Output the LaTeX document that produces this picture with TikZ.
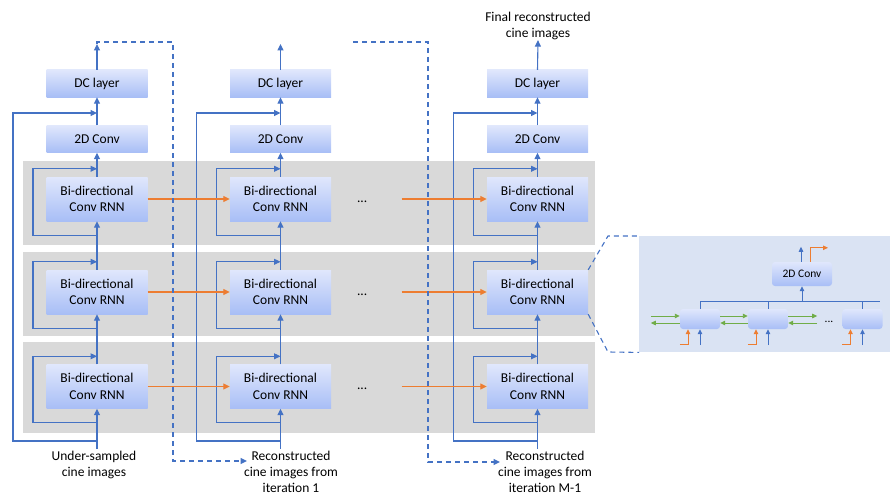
\documentclass[tikz,border=0pt]{standalone}
\usepackage{fontspec}
\setmainfont{Carlito}
\usepackage{tikz}
\usetikzlibrary{arrows.meta,positioning,calc}
\definecolor{flowblue}{RGB}{68,114,196}
\definecolor{hstateorange}{RGB}{237,125,49}
\definecolor{cellgreen}{RGB}{112,173,71}
\definecolor{bandgray}{RGB}{217,217,217}
\definecolor{insetblue}{RGB}{218,227,243}
\definecolor{blktop}{RGB}{224,231,252}
\definecolor{blkbot}{RGB}{168,190,246}
\tikzset{>={Triangle[length=6.5pt,width=6pt]},
  blk/.style={minimum width=101pt, minimum height=27pt, inner sep=0pt, top color=blktop, bottom color=blkbot, align=center, font=\fontsize{13.5}{16.5}\selectfont},
  rnnblk/.style={blk, minimum height=44pt},
  cellblk/.style={blk, minimum width=40pt, minimum height=20pt, rounded corners=3pt, font=\fontsize{11.5}{13}\selectfont},
  lbl/.style={inner sep=0pt, align=center, font=\fontsize{13.5}{16}\selectfont},
  flow/.style={draw=flowblue, line width=1.1pt},
  hstate/.style={draw=hstateorange, line width=1.1pt},
  feedback/.style={draw=flowblue, line width=1.3pt, dash pattern=on 5pt off 4pt},
  thinflow/.style={flow, line width=0.9pt, >={Triangle[length=5pt,width=4.5pt]}},
  thinhstate/.style={hstate, line width=0.9pt, >={Triangle[length=5pt,width=4.5pt]}},
  cellflow/.style={draw=cellgreen, line width=0.9pt, >={Triangle[length=5pt,width=4.5pt]}}}

\begin{document}
\begin{tikzpicture}[x=1pt, y=-1pt]
    \useasboundingbox (0,0) rectangle (891,495);
    \foreach \ytop/\ybot in {161/245,252/336,342/433} {
        \fill[bandgray] (23,\ytop) rectangle (595,\ybot);
    }
    \foreach[count=\i] \x/\xin/\inlabel in {97/94/{Under-sampled\\cine images},280.5/291/{Reconstructed\\cine images from\\iteration 1},537.5/545/{Reconstructed\\cine images from\\iteration M-1}} {
        \node[blk] (dc-\i) at (\x,83.5) {DC layer};
        \node[blk] (conv-\i) at (\x,139) {2D Conv};
        \foreach[count=\j] \y in {199,292,386.5} {
            \node[rnnblk] (rnn-\i-\j) at (\x,\y) {Bi-directional\\Conv RNN};
            \draw[flow,->] ([yshift=-14pt]rnn-\i-\j.south) -- ++(-64,0) |- ([yshift=8pt]rnn-\i-\j.north);
        }
        \node[lbl, anchor=north] (in-\i) at (\xin,451) {\inlabel};
        \coordinate (ob-\i) at (\x,441);
        \coordinate (ot-\i) at (\x,113);
        \draw[flow,->] ([yshift=2pt]in-\i.north -| rnn-\i-3.south) -- (rnn-\i-3.south);
        \draw[flow,->] (ob-\i) -- ++(-84,0) |- (ot-\i);
        \draw[flow,->] (rnn-\i-3.north) -- (rnn-\i-2.south);
        \draw[flow,->] (rnn-\i-2.north) -- (rnn-\i-1.south);
        \draw[flow,->] (rnn-\i-1.north) -- (conv-\i.south);
        \draw[flow,->] (conv-\i.north) -- (dc-\i.south);
    }
    \node[lbl, anchor=north] (final) at (538,12) {Final reconstructed\\cine images};
    \draw[flow,->] (dc-3.north) -- (final.south);
    \foreach \i in {1,2} {
        \coordinate (top-\i) at (dc-\i.north |- 0,44);
        \draw[flow,->] (dc-\i.north) -- (top-\i);
    }

    \foreach \j in {1,2,3} {
        \draw[hstate,->] (rnn-1-\j.east) -- (rnn-2-\j.west);
        \node[lbl, anchor=base] (dots-\j) at ($(rnn-2-\j.east)+(31,3)$) {...};
        \draw[hstate,->] ([xshift=34pt]dots-\j.east |- rnn-3-\j.west) -- (rnn-3-\j.west);
    }

    \coordinate (fb-2) at (247,461);
    \coordinate (skip) at (353,42);
    \coordinate (fb-3) at (500,462);
    \draw[feedback,->] (top-1) -- ++(0,-2) -| (173,461) -- (fb-2);
    \draw[feedback,->] (skip) -| (428,462) -- (fb-3);

    \node[fill=insetblue, minimum width=251pt, minimum height=116pt, inner sep=0pt, anchor=north west] (inset) at (639,236) {};
    \draw[feedback, line width=1.1pt] (rnn-3-2.north east) -- (608,236) -- (inset.north west);
    \draw[feedback, line width=1.1pt] (rnn-3-2.south east) -- (608,352) -- (inset.south west);
    \node[cellblk, minimum width=60pt, minimum height=24pt] (iconv) at (802,274) {2D Conv};
    \foreach[count=\k] \cx in {700,768,862.5} {
        \node[cellblk] (cell-\k) at (\cx,319) {};
        \draw[thinflow,->] ([yshift=-16pt]cell-\k.south) -- (cell-\k.south);
        \draw[thinhstate,->] ([yshift=-15pt]cell-\k.south west) -| ([xshift=-12pt]cell-\k.south);
    }
    \coordinate (bus) at (880,301);
    \draw[thinflow] (cell-1.north) |- (bus);
    \draw[thinflow] (cell-2.north) -- (cell-2.north |- bus);
    \draw[thinflow] (cell-3.north) -- (cell-3.north |- bus);
    \draw[thinflow,->] (iconv.south |- bus) -- (iconv.south);
    \draw[thinflow,->] ([xshift=-1pt]iconv.north) -- ++(0,-15);
    \draw[thinhstate,->] ([xshift=8pt]iconv.north) |- ++(18,-14);

    \draw[cellflow,->] ([shift={(-29,-3)}]cell-1.west) -- ([yshift=3pt]cell-1.west);
    \draw[cellflow,->] ([yshift=-4pt]cell-1.west) -- ++(-29,0);
    \draw[cellflow,->] ([yshift=3pt]cell-1.east) -- ([yshift=3pt]cell-2.west);
    \draw[cellflow,->] ([yshift=-4pt]cell-2.west) -- ([yshift=-4pt]cell-1.east);
    \draw[cellflow,->] ([yshift=3pt]cell-2.east) -- ++(29,0);
    \draw[cellflow,->] ([shift={(29,4)}]cell-2.east) -- ([yshift=-4pt]cell-2.east);
    \node[lbl, anchor=base, font=\fontsize{11.5}{13}\selectfont] (idots) at (829,322) {...};
\end{tikzpicture}
\end{document}
